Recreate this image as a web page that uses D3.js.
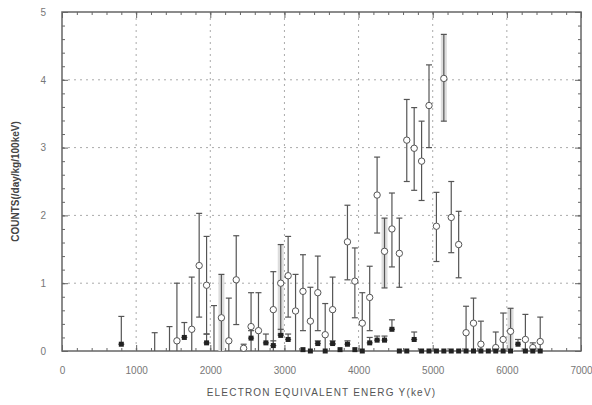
<!DOCTYPE html>
<html>
<head>
<meta charset="utf-8">
<script src="https://cdn.jsdelivr.net/npm/d3@7"></script>
<style>
  body { margin: 0; background: #fff; }
  text { font-family: "Liberation Sans", Arial, sans-serif; }
</style>
</head>
<body>
<div id="chart"></div>
<script>
// DATA ______________________________________________________________________
// open circles: energy (keV), value, lower / upper end of the error bar
const openEnergy = [1250, 1450, 1550, 1750, 1850, 1950, 2050, 2150, 2250, 2350, 2450, 2550, 2650,
  2850, 2950, 3050, 3150, 3250, 3350, 3450, 3550, 3650, 3850, 3950, 4050, 4150, 4250, 4350,
  4450, 4550, 4650, 4750, 4850, 4950, 5050, 5150, 5250, 5350, 5450, 5550, 5650, 5850, 5950,
  6050, 6250, 6350, 6450];
const openValue = [0, 0, 0.15, 0.32, 1.26, 0.97, 0, 0.49, 0.15, 1.05, 0.04, 0.36, 0.30,
  0.61, 1.00, 1.11, 0.59, 0.88, 0.44, 0.86, 0.24, 0.61, 1.61, 1.03, 0.41, 0.79, 2.30, 1.47,
  1.80, 1.44, 3.11, 2.99, 2.80, 3.62, 1.84, 4.02, 1.97, 1.57, 0.27, 0.41, 0.10, 0.05, 0.17,
  0.29, 0.17, 0.05, 0.14];
const openLow = [0, 0, 0, 0, 0.50, 0.25, 0, 0, 0, 0.39, 0, 0, 0,
  0, 0.25, 0.50, 0, 0.30, 0, 0.30, 0, 0.10, 1.05, 0.49, 0, 0.30, 1.74, 0.93,
  1.24, 0.94, 2.50, 2.37, 2.22, 3.00, 1.32, 3.39, 1.45, 1.08, 0, 0, 0, 0, 0,
  0, 0, 0, 0];
const openHigh = [0.27, 0.36, 1.00, 1.09, 2.03, 1.69, 0.67, 1.13, 0.78, 1.70, 0.10, 0.86, 0.86,
  1.17, 1.57, 1.69, 1.13, 1.42, 0.94, 1.40, 0.70, 1.09, 2.15, 1.52, 0.86, 1.25, 2.86, 1.96,
  2.33, 1.96, 3.71, 3.59, 3.39, 4.22, 2.34, 4.67, 2.50, 2.06, 0.66, 0.78, 0.44, 0.28, 0.56,
  0.63, 0.54, 0.12, 0.50];
// error bars drawn with a light grey band
const shadedEnergy = [2150, 2950, 4350, 5150, 6050];

// filled squares: energy (keV), value, upper end of the error bar
const fillEnergy = [800, 1650, 1950, 2550, 2750, 2850, 2950, 3050, 3250, 3350, 3450, 3550, 3650,
  3750, 3850, 3950, 4050, 4150, 4250, 4350, 4450, 4550, 4650, 4750, 4850, 4950, 5050, 5150,
  5250, 5350, 5450, 5550, 5650, 5750, 5850, 5950, 6050, 6150, 6250, 6350, 6450];
const fillValue = [0.10, 0.20, 0.12, 0.19, 0.12, 0.08, 0.23, 0.17, 0.02, 0, 0.11, 0, 0.11,
  0.02, 0.10, 0.02, 0, 0.12, 0.16, 0.16, 0.32, 0, 0, 0.17, 0, 0, 0, 0,
  0, 0, 0, 0, 0, 0, 0, 0, 0, 0.10, 0, 0, 0];
const fillHigh = [0.51, 0.42, 0.25, 0.30, 0.25, 0.15, 0.32, 0.25, 0.02, 0, 0.15, 0, 0.15,
  0.02, 0.15, 0.02, 0, 0.20, 0.22, 0.22, 0.46, 0, 0, 0.28, 0, 0, 0, 0,
  0, 0, 0, 0, 0, 0, 0, 0, 0, 0.17, 0, 0, 0];

const xTicks = [0, 1000, 2000, 3000, 4000, 5000, 6000, 7000];
const yTicks = [0, 1, 2, 3, 4, 5];
//____________________________________________________________________________

const W = 592, H = 405;
const MARGIN = {top: 12, right: 11, bottom: 54, left: 62};
const innerW = W - MARGIN.left - MARGIN.right;
const innerH = H - MARGIN.top - MARGIN.bottom;
const INK = '#666';

const svg = d3.select('#chart').append('svg')
  .attr('width', W).attr('height', H);
const g = svg.append('g')
  .attr('transform', `translate(${MARGIN.left},${MARGIN.top})`);

const x = d3.scaleLinear().domain([0, 7000]).range([0, innerW]);
const y = d3.scaleLinear().domain([0, 5]).range([innerH, 0]);

// grid (dotted)
g.append('g').selectAll('line').data(xTicks.slice(1, -1)).join('line')
  .attr('x1', d => x(d)).attr('x2', d => x(d))
  .attr('y1', 0).attr('y2', innerH)
  .attr('stroke', '#aaa').attr('stroke-dasharray', '2,4');
g.append('g').selectAll('line').data(yTicks.slice(1, -1)).join('line')
  .attr('y1', d => y(d)).attr('y2', d => y(d))
  .attr('x1', 0).attr('x2', innerW)
  .attr('stroke', '#aaa').attr('stroke-dasharray', '2,4');

// axes with inward ticks on all four sides
const xMinor = d3.range(0, 7001, 200);
const yMinor = d3.range(0, 5.001, 0.2);
function styleAxis(sel) {
  sel.select('.domain').remove();
  sel.selectAll('line').attr('stroke', INK);
  sel.selectAll('text').attr('fill', '#777').style('font-size', '10px');
}
g.append('g').attr('transform', `translate(0,${innerH})`)
  .call(d3.axisBottom(x).tickValues(xMinor).tickSize(-3).tickFormat(''))
  .call(styleAxis);
g.append('g').attr('transform', `translate(0,${innerH})`)
  .call(d3.axisBottom(x).tickValues(xTicks).tickSize(-6).tickPadding(16).tickFormat(d3.format('d')))
  .call(styleAxis);
g.append('g')
  .call(d3.axisTop(x).tickValues(xMinor).tickSize(-3).tickFormat(''))
  .call(styleAxis);
g.append('g')
  .call(d3.axisTop(x).tickValues(xTicks).tickSize(-6).tickFormat(''))
  .call(styleAxis);
g.append('g')
  .call(d3.axisLeft(y).tickValues(yMinor).tickSize(-3).tickFormat(''))
  .call(styleAxis);
g.append('g')
  .call(d3.axisLeft(y).tickValues(yTicks).tickSize(-6).tickPadding(16).tickFormat(d3.format('d')))
  .call(styleAxis);
g.append('g').attr('transform', `translate(${innerW},0)`)
  .call(d3.axisRight(y).tickValues(yMinor).tickSize(-3).tickFormat(''))
  .call(styleAxis);
g.append('g').attr('transform', `translate(${innerW},0)`)
  .call(d3.axisRight(y).tickValues(yTicks).tickSize(-6).tickFormat(''))
  .call(styleAxis);

// frame
g.append('rect').attr('width', innerW).attr('height', innerH)
  .attr('fill', 'none').attr('stroke', INK).attr('stroke-width', 1.5);

const openData = openEnergy.map((e, i) => ({e, v: openValue[i], lo: openLow[i], hi: openHigh[i]}));
const fillData = fillEnergy.map((e, i) => ({e, v: fillValue[i], hi: fillHigh[i]}));

// light grey bands behind some error bars
g.append('g').selectAll('rect').data(openData.filter(d => shadedEnergy.includes(d.e))).join('rect')
  .attr('x', d => x(d.e) - 3).attr('width', 6)
  .attr('y', d => y(d.hi)).attr('height', d => y(d.lo) - y(d.hi))
  .attr('fill', '#ddd');

function errorBars(sel, data, lo) {
  const bars = sel.append('g').attr('stroke', '#555').attr('stroke-width', 1.2);
  bars.selectAll('.stem').data(data).join('line').attr('class', 'stem')
    .attr('x1', d => x(d.e)).attr('x2', d => x(d.e))
    .attr('y1', d => y(d.hi)).attr('y2', d => y(lo(d)));
  bars.selectAll('.cap-hi').data(data.filter(d => d.hi > 0)).join('line').attr('class', 'cap-hi')
    .attr('x1', d => x(d.e) - 3).attr('x2', d => x(d.e) + 3)
    .attr('y1', d => y(d.hi)).attr('y2', d => y(d.hi));
  bars.selectAll('.cap-lo').data(data.filter(d => lo(d) > 0)).join('line').attr('class', 'cap-lo')
    .attr('x1', d => x(d.e) - 3).attr('x2', d => x(d.e) + 3)
    .attr('y1', d => y(lo(d))).attr('y2', d => y(lo(d)));
}
errorBars(g, openData, d => d.lo);
errorBars(g, fillData.filter(d => d.hi > d.v), d => d.v);

// open-circle series
g.append('g').selectAll('circle').data(openData.filter(d => d.v > 0)).join('circle')
  .attr('cx', d => x(d.e)).attr('cy', d => y(d.v)).attr('r', 3.2)
  .attr('fill', '#fff').attr('stroke', '#555').attr('stroke-width', 1);

// filled square series
g.append('g').selectAll('rect').data(fillData).join('rect')
  .attr('x', d => x(d.e) - 2.5).attr('y', d => y(d.v) - 2.5)
  .attr('width', 5).attr('height', 5).attr('fill', '#222');

// axis titles
svg.append('text')
  .attr('x', MARGIN.left + innerW / 2).attr('y', H - 9)
  .attr('text-anchor', 'middle').attr('fill', '#555')
  .style('font-size', '10px').style('letter-spacing', '1.2px')
  .text('ELECTRON EQUIVALENT ENERG Y(keV)');
svg.append('text')
  .attr('transform', `translate(19,${MARGIN.top + innerH / 2}) rotate(-90)`)
  .attr('text-anchor', 'middle').attr('fill', '#444')
  .style('font-size', '10px').style('font-weight', 'bold')
  .text('COUNTS(/day/kg/100keV)');
</script>
</body>
</html>
